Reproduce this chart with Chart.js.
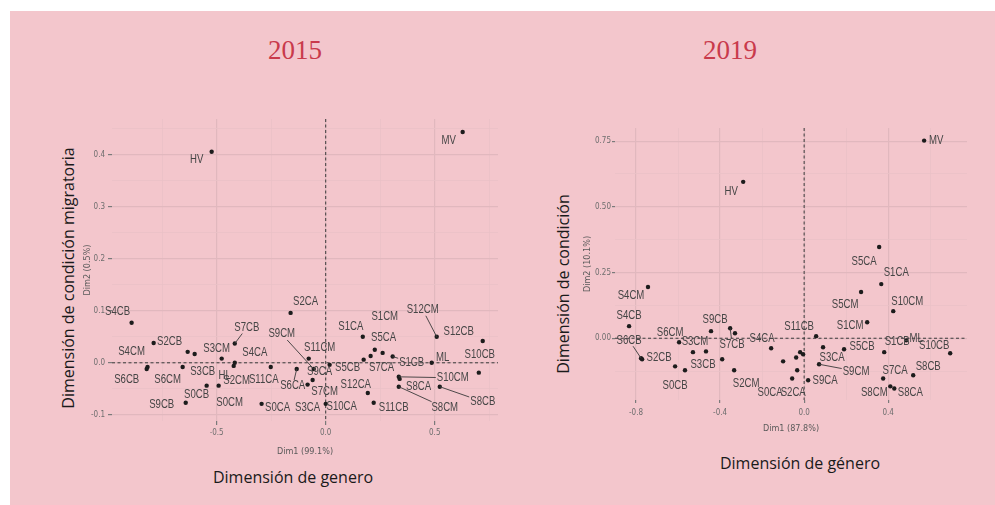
<!DOCTYPE html>
<html>
<head>
<meta charset="utf-8">
<script src="https://cdn.jsdelivr.net/npm/chart.js@4.4.0/dist/chart.umd.min.js"></script>
<style>
  html, body { margin: 0; padding: 0; background: #fff; width: 995px; height: 505px; overflow: hidden; }
  #panel { position: absolute; left: 10px; top: 11px; width: 985px; height: 494px; background: #f3c6cc; }
  .year { position: absolute; font-family: "Liberation Serif", serif; font-size: 27px; color: #c93a4b; transform: translate(-50%, -50%); }
  .outer { position: absolute; font-family: "Open Sans", sans-serif; font-size: 16px; color: #1a1a1a; white-space: nowrap; transform: translate(-50%, -50%); }
  .outer.rot { transform: translate(-50%, -50%) rotate(-90deg); }
  canvas { position: absolute; filter: blur(0.5px); }
</style>
</head>
<body>
<div id="panel"></div>
<div class="year" style="left:295px; top:50px;">2015</div>
<div class="year" style="left:730px; top:50px;">2019</div>
<div class="outer rot" style="left:68px; top:278px;">Dimensión de condición migratoria</div>
<div class="outer" style="left:293px; top:477px;">Dimensión de genero</div>
<div class="outer rot" style="left:563px; top:284px;">Dimensión de condición</div>
<div class="outer" style="left:800px; top:463px;">Dimensión de género</div>
<canvas id="c2015" width="433" height="359" style="left:82px; top:100px;"></canvas>
<canvas id="c2019" width="403" height="336" style="left:582px; top:100px;"></canvas>
<script>
// ---- 2015 ----
const names2015 = ["HV", "MV", "S4CB", "S2CB", "S4CM", "S6CB", "S6CM", "S3CB", "S3CM", "HL",
  "S7CB", "S4CA", "S2CM", "S11CA", "S6CA", "S0CB", "S9CB", "S0CM", "S0CA", "S3CA",
  "S7CM", "S10CA", "S2CA", "S11CM", "S9CM", "S9CA", "S5CB", "S1CA", "S1CM", "S5CA",
  "S7CA", "S1CB", "ML", "S12CM", "S12CB", "S10CB", "S10CM", "S8CA", "S8CM", "S8CB",
  "S12CA", "S11CB"];
const dim1_2015 = [-0.523, 0.628, -0.890, -0.789, -0.817, -0.821, -0.656, -0.633, -0.601, -0.477,
  -0.417, -0.417, -0.422, -0.252, -0.133, -0.546, -0.642, -0.491, -0.294, -0.083,
  -0.060, 0.000, -0.161, -0.078, -0.055, 0.018, 0.174, 0.170, 0.225, 0.261,
  0.206, 0.307, 0.486, 0.509, 0.720, 0.702, 0.335, 0.339, 0.335, 0.523,
  0.193, 0.220];
const dim2_2015 = [0.406, 0.444, 0.077, 0.038, -0.008, -0.012, -0.008, 0.021, 0.017, 0.008,
  0.037, 0.000, -0.006, -0.008, -0.012, -0.044, -0.077, -0.044, -0.079, -0.042,
  -0.033, -0.079, 0.096, 0.008, -0.012, -0.004, 0.006, 0.050, 0.025, 0.019,
  0.013, 0.012, 0.000, 0.050, 0.042, -0.019, -0.027, -0.031, -0.046, -0.046,
  -0.058, -0.077];
const xTicks2015 = ["-0.5", "0.0", "0.5"];
const xMinor2015 = [-0.75, -0.25, 0.25, 0.75];
const yTicks2015 = ["-0.1", "0.0", "0.1", "0.2", "0.3", "0.4"];
const yMinor2015 = [-0.05, 0.05, 0.15, 0.25, 0.35, 0.45];

// ---- 2019 ----
const names2019 = ["HV", "MV", "S4CM", "S4CB", "S6CB", "S2CB", "S6CM", "S3CM", "S3CB", "S9CB",
  "S7CB", "", "S0CB", "", "", "S2CM", "S4CA", "", "", "",
  "", "S0CA", "S2CA", "S9CA", "S11CB", "S3CA", "S9CM", "S5CB", "S1CB", "S10CB",
  "ML", "S8CB", "S7CA", "S8CM", "S8CA", "S5CA", "S1CA", "S5CM", "S10CM", "S1CM"];
const dim1_2019 = [-0.290, 0.571, -0.743, -0.833, -0.776, -0.771, -0.595, -0.529, -0.467, -0.443,
  -0.352, -0.329, -0.614, -0.567, -0.390, -0.333, -0.157, -0.100, -0.038, -0.019,
  -0.005, -0.057, -0.033, 0.019, 0.057, 0.090, 0.071, 0.190, 0.381, 0.695,
  0.486, 0.519, 0.376, 0.410, 0.429, 0.357, 0.367, 0.271, 0.424, 0.300];
const dim2_2019 = [0.595, 0.752, 0.195, 0.046, -0.076, -0.080, -0.015, -0.053, -0.050, 0.027,
  0.038, 0.019, -0.107, -0.122, -0.080, -0.122, -0.038, -0.088, -0.073, -0.053,
  -0.061, -0.153, -0.122, -0.160, 0.008, -0.034, -0.099, -0.042, -0.053, -0.057,
  -0.008, -0.141, -0.153, -0.183, -0.191, 0.347, 0.206, 0.176, 0.103, 0.061];
const xTicks2019 = ["-0.8", "-0.4", "0.0", "0.4"];
const xMinor2019 = [-0.6, -0.2, 0.2, 0.6];
const yTicks2019 = ["0.00", "0.25", "0.50", "0.75"];
const yMinor2019 = [-0.125, 0.125, 0.375, 0.625];

// label placement (pixel shift of each label from its point), repel-style
const shift2015 = {
  HV: [-15, 8], MV: [-14, 9], S4CB: [-14, -11], S2CB: [16, -1], S4CM: [-16, -15], S6CB: [-20, 11],
  S6CM: [-15, 13], S3CB: [15, 20], S3CM: [22, -5], HL: [3, 17], S7CB: [12, -16], S4CA: [20, -10],
  S2CM: [3, 15], S11CA: [-7, 13], S6CA: [-4, 17], S0CB: [-10, 9], S9CB: [-24, 2], S0CM: [11, 17],
  S0CA: [16, 4], S3CA: [0, 23], S7CM: [12, 12], S10CA: [16, 3], S2CA: [15, -11], S11CM: [11, -11],
  S9CM: [-32, -35], S9CA: [-10, 7], S5CB: [-16, 8], S1CA: [-12, -10], S1CM: [10, -33], S5CA: [1, -15],
  S7CA: [11, 12], S1CB: [19, 6], ML: [11, -5], S12CM: [-14, -27], S12CB: [-24, -9], S10CB: [1, -18],
  S10CM: [54, 1], S8CA: [19, 8], S8CM: [46, 21], S8CB: [43, 15], S12CA: [-12, -8], S11CB: [20, 5]
};
const segments2015 = ["S7CB", "S6CA", "S9CM", "S1CB", "S12CM", "S10CM", "S8CM", "S8CB"];
const shift2019 = {
  HV: [-12, 10], MV: [12, 0], S4CM: [-17, 9], S4CB: [0, -10], S6CB: [-12, -18], S2CB: [17, -2],
  S6CM: [-9, -9], S3CM: [2, -10], S3CB: [-3, 13], S9CB: [4, -11], S7CB: [2, 16], S0CB: [0, 19],
  S2CM: [12, 13], S4CA: [-9, -10], S0CA: [-22, 14], S2CA: [-4, 22], S9CA: [17, 0], S11CB: [-17, -9],
  S3CA: [9, 11], S9CM: [37, 7], S5CB: [18, -3], S1CB: [13, -10], S10CB: [-16, -8], ML: [10, -2],
  S8CB: [15, -9], S7CA: [12, -8], S8CM: [-16, 6], S8CA: [16, 4], S5CA: [-15, 15], S1CA: [15, -11],
  S5CM: [-16, 13], S10CM: [14, -9], S1CM: [-17, 3]
};
const segments2019 = ["S6CB", "S7CB", "S9CM"];

const LABEL_FONT = '12px "Liberation Sans", Arial, sans-serif';
const LABEL_SQUEEZE = 0.8;
const GRID_MAJOR = "#e1b8be";
const GRID_MINOR = "#eac1c6";

function labelPlugin(names, shift, segments) {
  return {
    id: "pointLabels",
    beforeDatasetsDraw(chart) {
      const { ctx, chartArea: a, scales: { x, y } } = chart;
      const x0 = x.getPixelForValue(0), y0 = y.getPixelForValue(0);
      ctx.save();
      ctx.strokeStyle = "#3a3a3a";
      ctx.lineWidth = 1;
      ctx.setLineDash([3, 2.5]);
      ctx.beginPath();
      ctx.moveTo(x0, a.top); ctx.lineTo(x0, a.bottom);
      ctx.moveTo(a.left, y0); ctx.lineTo(a.right, y0);
      ctx.stroke();
      ctx.restore();
    },
    afterDatasetsDraw(chart) {
      const ctx = chart.ctx;
      const pts = chart.getDatasetMeta(0).data;
      ctx.save();
      ctx.font = LABEL_FONT;
      ctx.textAlign = "center";
      ctx.textBaseline = "middle";
      pts.forEach((p, i) => {
        const name = names[i];
        if (!name) return;
        const [dx, dy] = shift[name] || [12, 0];
        const lx = p.x + dx, ly = p.y + dy;
        if (segments.includes(name)) {
          const hw = ctx.measureText(name).width * LABEL_SQUEEZE / 2 + 1, hh = 6;
          const t = Math.min(dx ? hw / Math.abs(dx) : 1, dy ? hh / Math.abs(dy) : 1, 1);
          ctx.strokeStyle = "#3a3a3a";
          ctx.lineWidth = 0.9;
          ctx.beginPath();
          ctx.moveTo(p.x, p.y);
          ctx.lineTo(lx - dx * t, ly - dy * t);
          ctx.stroke();
        }
        ctx.save();
        ctx.translate(lx, ly);
        ctx.scale(LABEL_SQUEEZE, 1);
        ctx.fillStyle = "#454545";
        ctx.fillText(name, 0, 0);
        ctx.restore();
      });
      ctx.restore();
    }
  };
}

function axisOptions(majorLabels, minor, range, opts) {
  const majors = majorLabels.map(Number);
  const isMajor = v => majors.some(m => Math.abs(m - v) < 1e-9);
  return {
    type: "linear",
    min: range[0],
    max: range[1],
    afterBuildTicks: axis => {
      axis.ticks = majors.concat(minor).sort((a, b) => a - b).map(v => ({ value: v }));
    },
    afterFit: axis => {
      if (opts.width != null) axis.width = opts.width;
      if (opts.height != null) axis.height = opts.height;
    },
    border: { display: false },
    grid: {
      color: c => (c.tick && isMajor(c.tick.value) ? GRID_MAJOR : GRID_MINOR),
      lineWidth: c => (c.tick && isMajor(c.tick.value) ? 1.2 : 0.8),
      tickColor: c => (c.tick && isMajor(c.tick.value) ? "#7a7a7a" : "rgba(0,0,0,0)"),
      tickLength: opts.tickLength,
      drawTicks: true
    },
    ticks: {
      autoSkip: false,
      maxRotation: 0,
      padding: opts.padding,
      color: "#6e6e6e",
      font: { family: '"DejaVu Sans Condensed", sans-serif', size: 8 },
      callback: v => {
        const k = majors.findIndex(m => Math.abs(m - v) < 1e-9);
        return k >= 0 ? majorLabels[k] : "";
      }
    },
    title: {
      display: true,
      text: opts.title,
      color: "#5a5a5a",
      font: { family: '"DejaVu Sans Condensed", sans-serif', size: 9 },
      padding: opts.titlePadding
    }
  };
}

function buildPanel(canvasId, names, xs, ys, shift, segments, cfg) {
  return new Chart(document.getElementById(canvasId), {
    type: "scatter",
    data: {
      datasets: [{
        data: xs.map((v, i) => ({ x: v, y: ys[i] })),
        backgroundColor: "#1c1c1c",
        borderWidth: 0,
        pointRadius: 2.2,
        pointHoverRadius: 2.2
      }]
    },
    options: {
      responsive: false,
      animation: false,
      layout: { padding: cfg.padding },
      plugins: { legend: { display: false }, tooltip: { enabled: false } },
      scales: { x: cfg.x, y: cfg.y }
    },
    plugins: [labelPlugin(names, shift, segments)]
  });
}

buildPanel("c2015", names2015, dim1_2015, dim2_2015, shift2015, segments2015, {
  padding: { top: 19, right: 17, left: 0, bottom: 0 },
  x: axisOptions(xTicks2015, xMinor2015, [-0.98, 0.79],
    { height: 38, tickLength: 4, padding: 3, title: "Dim1 (99.1%)", titlePadding: { top: 0, bottom: 2 } }),
  y: axisOptions(yTicks2015, yMinor2015, [-0.112, 0.469],
    { width: 30, tickLength: 4, padding: 3, title: "Dim2 (0.5%)", titlePadding: { top: 0, bottom: 0 } })
});

buildPanel("c2019", names2019, dim1_2019, dim2_2019, shift2019, segments2019, {
  padding: { top: 28, right: 18, left: 0, bottom: 0 },
  x: axisOptions(xTicks2019, xMinor2019, [-0.9, 0.775],
    { height: 36, tickLength: 3, padding: 5, title: "Dim1 (87.8%)", titlePadding: { top: 0, bottom: 2 } }),
  y: axisOptions(yTicks2019, yMinor2019, [-0.235, 0.80],
    { width: 33, tickLength: 3, padding: 1, title: "Dim2 (10.1%)", titlePadding: { top: 0, bottom: 0 } })
});
</script>
</body>
</html>
